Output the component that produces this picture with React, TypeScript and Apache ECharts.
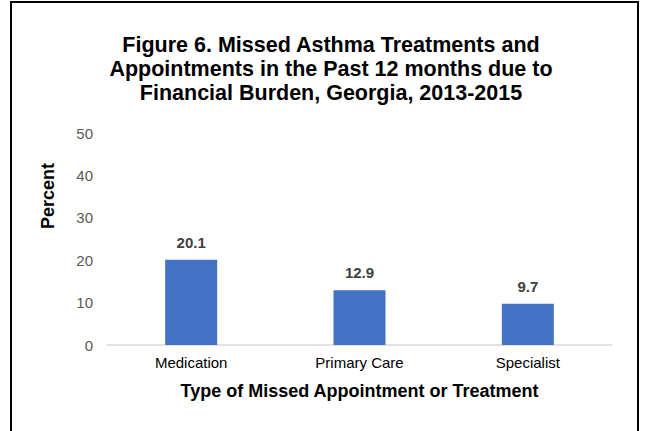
import React, { useEffect, useRef } from "react";
import * as echarts from "echarts";

const categories = ["Medication", "Primary Care", "Specialist"];
const values = [20.1, 12.9, 9.7];
const yTicks = [0, 10, 20, 30, 40, 50];

const titleText =
  "Figure 6. Missed Asthma Treatments and\nAppointments in the Past 12 months due to\nFinancial Burden, Georgia, 2013-2015";
const xName = "Type of Missed Appointment or Treatment";
const yName = "Percent";

const FONT = "'Liberation Sans', Arial, sans-serif";

export default function App() {
  const ref = useRef<HTMLDivElement>(null);
  useEffect(() => {
    if (!ref.current) return;
    const chart = echarts.init(ref.current, null, { renderer: "svg" });
    chart.setOption({
      animation: false,
      backgroundColor: "#ffffff",
      title: {
        text: titleText,
        left: 326,
        textAlign: "center",
        top: 28,
        textStyle: {
          fontFamily: FONT,
          fontSize: 21.5,
          fontWeight: "bold",
          color: "#000000",
          lineHeight: 24,
        },
      },
      grid: { left: 107, right: 35, top: 133, bottom: 86 },
      xAxis: {
        type: "category",
        data: categories,
        axisLine: { lineStyle: { color: "#d9d9d9", width: 1.5 } },
        axisTick: { show: false },
        axisLabel: {
          fontFamily: FONT,
          fontSize: 15,
          color: "#000000",
          margin: 10,
        },
        name: xName,
        nameLocation: "middle",
        nameGap: 37,
        nameTextStyle: {
          fontFamily: FONT,
          fontSize: 18,
          fontWeight: "bold",
          color: "#000000",
        },
      },
      yAxis: {
        type: "value",
        min: yTicks[0],
        max: yTicks[yTicks.length - 1],
        interval: 10,
        splitLine: { show: false },
        axisLine: { show: false },
        axisTick: { show: false },
        axisLabel: {
          fontFamily: FONT,
          fontSize: 15,
          color: "#595959",
          margin: 14,
        },
      },
      graphic: [
        {
          type: "rect",
          shape: { x: 11, y: 2, width: 627, height: 440 },
          style: { fill: "none", stroke: "#000000", lineWidth: 2 },
          silent: true,
        },
        {
          type: "text",
          x: 48,
          y: 196,
          rotation: Math.PI / 2,
          style: {
            text: yName,
            fontFamily: FONT,
            fontSize: 18,
            fontWeight: "bold",
            fill: "#000000",
            textAlign: "center",
            textVerticalAlign: "middle",
          },
        },
      ],
      series: [
        {
          type: "bar",
          data: values,
          barWidth: 52,
          itemStyle: { color: "#4472c4" },
          label: {
            show: true,
            position: "top",
            distance: 10,
            fontFamily: FONT,
            fontSize: 15,
            fontWeight: "bold",
            color: "#404040",
            formatter: (p: any) => p.value.toFixed(1),
          },
        },
      ],
    });
    return () => chart.dispose();
  }, []);
  return (
    <div
      ref={ref}
      style={{ position: "fixed", left: 0, top: 0, width: 647, height: 431 }}
    />
  );
}
